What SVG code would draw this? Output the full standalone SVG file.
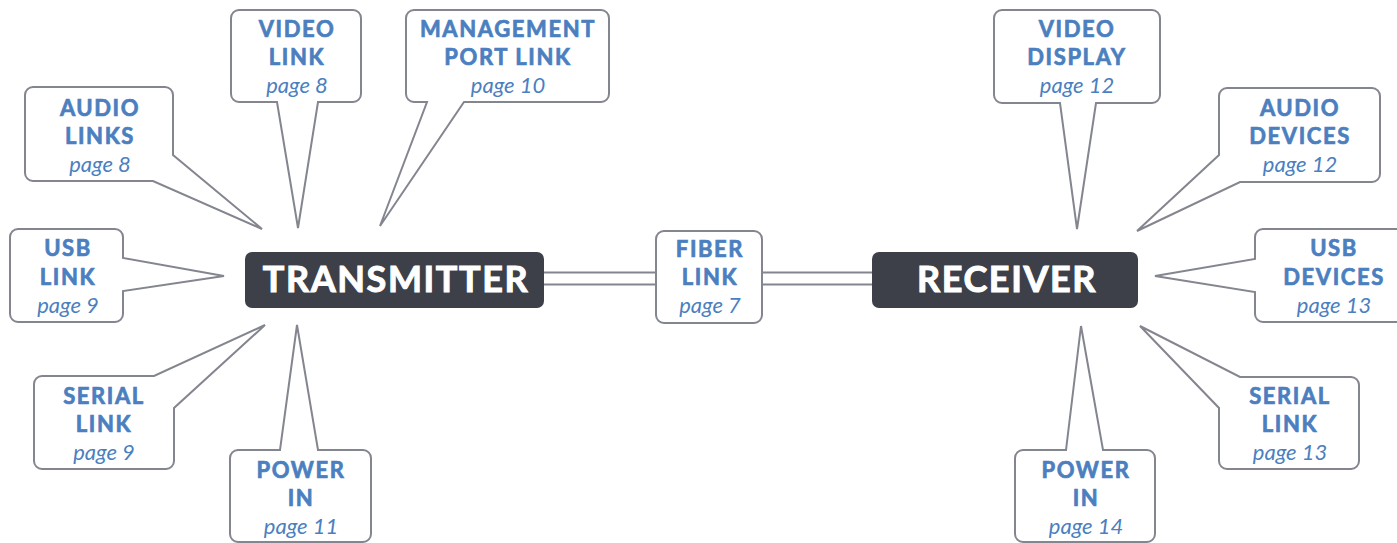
<svg xmlns="http://www.w3.org/2000/svg" width="1397" height="543" viewBox="0 0 1397 543">
<style>
.co{fill:#ffffff;stroke:#83868f;stroke-width:2;stroke-linejoin:miter}
.hub{fill:#3d4049}
.ht{font-family:Lato,"Open Sans",sans-serif;font-weight:700;font-size:36px;letter-spacing:1.6px;fill:#ffffff;stroke:#ffffff;stroke-width:1;text-anchor:middle}
.t{font-family:Lato,"Open Sans",sans-serif;font-weight:700;font-size:22px;letter-spacing:1.6px;fill:#4b7fbf;stroke:#4b7fbf;stroke-width:0.7;text-anchor:middle}
.p{font-family:Lato,"Open Sans",sans-serif;font-style:italic;font-size:22px;fill:#4b7fbf;text-anchor:middle}
.ln{stroke:#83868f;stroke-width:2;fill:none}
</style>
<rect width="1397" height="543" fill="#ffffff"/>
<g id="connectors">
<line class="ln" x1="544" y1="272.5" x2="872" y2="272.5"/>
<line class="ln" x1="544" y1="284.5" x2="872" y2="284.5"/>
</g>
<g id="transmitter">
<rect class="hub" x="245" y="252" width="299" height="56" rx="7"/>
<text class="ht" x="396" y="292">TRANSMITTER</text>
</g>
<g id="receiver">
<rect class="hub" x="872" y="252" width="266" height="56" rx="7"/>
<text class="ht" x="1007" y="292">RECEIVER</text>
</g>
<g id="fiber-link">
<rect class="co" x="656" y="231" width="106" height="92" rx="8"/>
<text class="t" x="710" y="257">FIBER</text>
<text class="t" x="710" y="285">LINK</text>
<text class="p" x="710" y="313">page 7</text>
</g>
<g id="video-link">
<path class="co" d="M239,10 H353 A8 8 0 0 1 361,18 V94 A8 8 0 0 1 353,102 H318 L298,228 L277,102 H239 A8 8 0 0 1 231,94 V18 A8 8 0 0 1 239,10 Z"/>
<text class="t" x="297" y="37">VIDEO</text>
<text class="t" x="297" y="65">LINK</text>
<text class="p" x="297" y="93">page 8</text>
</g>
<g id="management-port-link">
<path class="co" d="M414,10 H601 A8 8 0 0 1 609,18 V94 A8 8 0 0 1 601,102 H464 L380,226 L427,102 H414 A8 8 0 0 1 406,94 V18 A8 8 0 0 1 414,10 Z"/>
<text class="t" x="508" y="37">MANAGEMENT</text>
<text class="t" x="508" y="65">PORT LINK</text>
<text class="p" x="508" y="93">page 10</text>
</g>
<g id="audio-links">
<path class="co" d="M33,87 H165 A8 8 0 0 1 173,95 V155 L262,229 L153,181 H33 A8 8 0 0 1 25,173 V95 A8 8 0 0 1 33,87 Z"/>
<text class="t" x="100" y="116">AUDIO</text>
<text class="t" x="100" y="144">LINKS</text>
<text class="p" x="100" y="172">page 8</text>
</g>
<g id="usb-link">
<path class="co" d="M18,229 H115 A8 8 0 0 1 123,237 V258 L224,276 L123,291 V314 A8 8 0 0 1 115,322 H18 A8 8 0 0 1 10,314 V237 A8 8 0 0 1 18,229 Z"/>
<text class="t" x="68" y="256">USB</text>
<text class="t" x="68" y="285">LINK</text>
<text class="p" x="68" y="313">page 9</text>
</g>
<g id="serial-link-tx">
<path class="co" d="M42,376 H154 L265,325 L174,408 V461 A8 8 0 0 1 166,469 H42 A8 8 0 0 1 34,461 V384 A8 8 0 0 1 42,376 Z"/>
<text class="t" x="104" y="404">SERIAL</text>
<text class="t" x="104" y="432">LINK</text>
<text class="p" x="104" y="460">page 9</text>
</g>
<g id="power-in-tx">
<path class="co" d="M238,450 H280 L297,325 L318,450 H363 A8 8 0 0 1 371,458 V534 A8 8 0 0 1 363,542 H238 A8 8 0 0 1 230,534 V458 A8 8 0 0 1 238,450 Z"/>
<text class="t" x="301" y="478">POWER</text>
<text class="t" x="301" y="506">IN</text>
<text class="p" x="301" y="534">page 11</text>
</g>
<g id="video-display">
<path class="co" d="M1002,10 H1152 A8 8 0 0 1 1160,18 V95 A8 8 0 0 1 1152,103 H1096 L1077,229 L1060,103 H1002 A8 8 0 0 1 994,95 V18 A8 8 0 0 1 1002,10 Z"/>
<text class="t" x="1077" y="37">VIDEO</text>
<text class="t" x="1077" y="65">DISPLAY</text>
<text class="p" x="1077" y="93">page 12</text>
</g>
<g id="audio-devices">
<path class="co" d="M1227,88 H1372 A8 8 0 0 1 1380,96 V174 A8 8 0 0 1 1372,182 H1240 L1137,231 L1219,155 V96 A8 8 0 0 1 1227,88 Z"/>
<text class="t" x="1300" y="116">AUDIO</text>
<text class="t" x="1300" y="144">DEVICES</text>
<text class="p" x="1300" y="172">page 12</text>
</g>
<g id="usb-devices">
<path class="co" d="M1263,229 H1405 A8 8 0 0 1 1413,237 V314 A8 8 0 0 1 1405,322 H1263 A8 8 0 0 1 1255,314 V292 L1155,276 L1255,259 V237 A8 8 0 0 1 1263,229 Z"/>
<text class="t" x="1334" y="256">USB</text>
<text class="t" x="1334" y="285">DEVICES</text>
<text class="p" x="1334" y="313">page 13</text>
</g>
<g id="serial-link-rx">
<path class="co" d="M1240,377 H1351 A8 8 0 0 1 1359,385 V461 A8 8 0 0 1 1351,469 H1227 A8 8 0 0 1 1219,461 V408 L1140,326 L1240,377 Z"/>
<text class="t" x="1290" y="404">SERIAL</text>
<text class="t" x="1290" y="432">LINK</text>
<text class="p" x="1290" y="460">page 13</text>
</g>
<g id="power-in-rx">
<path class="co" d="M1023,450 H1066 L1081,326 L1103,450 H1147 A8 8 0 0 1 1155,458 V534 A8 8 0 0 1 1147,542 H1023 A8 8 0 0 1 1015,534 V458 A8 8 0 0 1 1023,450 Z"/>
<text class="t" x="1086" y="478">POWER</text>
<text class="t" x="1086" y="506">IN</text>
<text class="p" x="1086" y="534">page 14</text>
</g>
</svg>
